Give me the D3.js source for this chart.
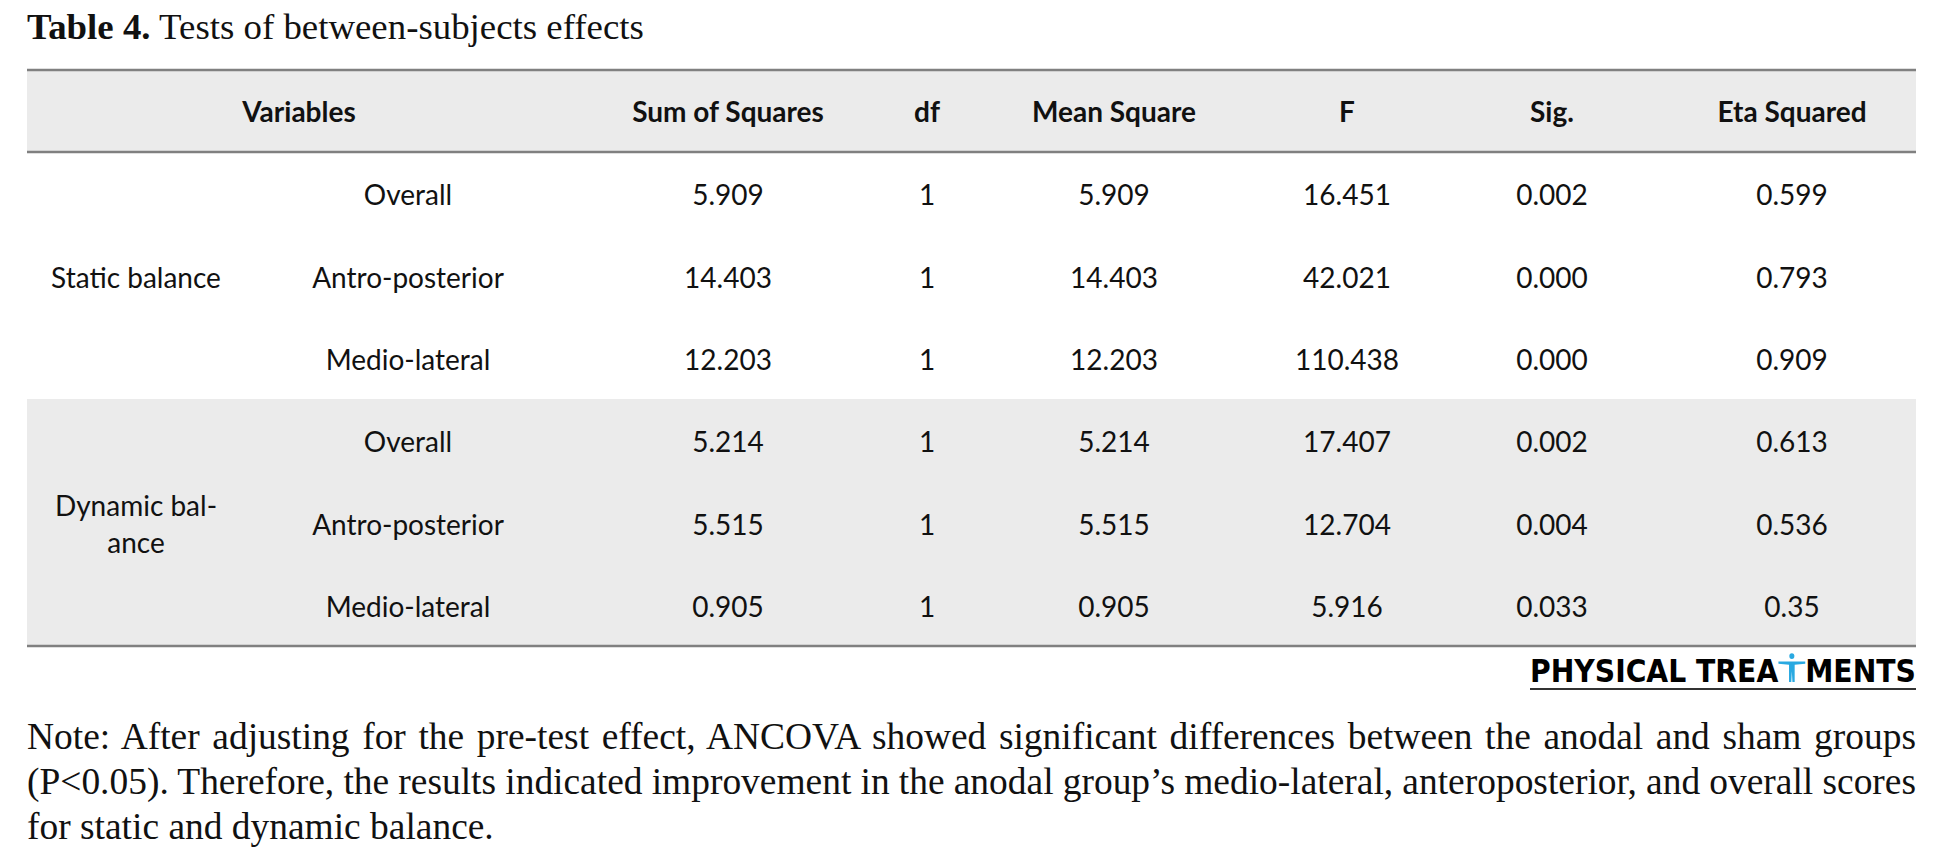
<!DOCTYPE html>
<html>
<head>
<meta charset="utf-8">
<script src="https://cdn.jsdelivr.net/npm/d3@7"></script>
<style>
  body { margin: 0; background: #fff; }
  svg { display: block; }
</style>
</head>
<body>
<div id="chart"></div>
<script>
// table content
const columns = ['Variables', 'Sum of Squares', 'df', 'Mean Square', 'F', 'Sig.', 'Eta Squared'];
const groups = [['Static balance'], ['Dynamic bal-', 'ance']];
const subVariables = ['Overall', 'Antro-posterior', 'Medio-lateral', 'Overall', 'Antro-posterior', 'Medio-lateral'];
const sumOfSquares = ['5.909', '14.403', '12.203', '5.214', '5.515', '0.905'];
const dfValues = ['1', '1', '1', '1', '1', '1'];
const meanSquare = ['5.909', '14.403', '12.203', '5.214', '5.515', '0.905'];
const fValues = ['16.451', '42.021', '110.438', '17.407', '12.704', '5.916'];
const sigValues = ['0.002', '0.000', '0.000', '0.002', '0.004', '0.033'];
const etaSquared = ['0.599', '0.793', '0.909', '0.613', '0.536', '0.35'];

const titleBold = 'Table 4.';
const titleText = ' Tests of between-subjects effects';
const noteLines = [
  'Note: After adjusting for the pre-test effect, ANCOVA showed significant differences between the anodal and sham groups',
  '(P<0.05). Therefore, the results indicated improvement in the anodal group\u2019s medio-lateral, anteroposterior, and overall scores',
  'for static and dynamic balance.'
];

const width = 1938;
const height = 852;
const left = 27;
const right = 1916;
const sansFont = 'Lato, "Open Sans", sans-serif';
const serifFont = '"Liberation Serif", "DejaVu Serif", serif';
const ruleColor = '#808080';
const bandColor = '#ebebeb';
const ink = '#111';
const cellSize = 28;

const svg = d3.select('#chart')
  .append('svg')
  .attr('width', width)
  .attr('height', height);

svg.append('rect').attr('width', width).attr('height', height).attr('fill', '#fff');

// column centres: sub-variable column, then the number columns
const colKeys = ['sub', 'ss', 'df', 'ms', 'f', 'sig', 'eta'];
const xcol = d3.scaleOrdinal().domain(colKeys).range([408, 728, 927, 1114, 1347, 1552, 1792]);
const groupX = 136;
const headerX = d3.scaleOrdinal().domain(columns).range([299, 728, 927, 1114, 1347, 1552, 1792]);

// rows
const headerTop = 70, headerBottom = 152, tableBottom = 646;
const yrow = d3.scaleBand().domain(d3.range(subVariables.length)).range([headerBottom, tableBottom]);
const rowMid = i => yrow(i) + yrow.bandwidth() / 2 + 2;

// shaded bands
svg.append('rect')
  .attr('x', left).attr('y', headerTop)
  .attr('width', right - left).attr('height', headerBottom - headerTop)
  .attr('fill', bandColor);
svg.append('rect')
  .attr('x', left).attr('y', yrow(3))
  .attr('width', right - left).attr('height', tableBottom - yrow(3))
  .attr('fill', bandColor);

// rules
[headerTop, headerBottom, tableBottom].forEach(y => {
  svg.append('line')
    .attr('x1', left).attr('x2', right)
    .attr('y1', y).attr('y2', y)
    .attr('stroke', ruleColor).attr('stroke-width', 2.5);
});

// header
svg.append('g')
  .selectAll('text')
  .data(columns)
  .join('text')
  .attr('x', d => headerX(d))
  .attr('y', (headerTop + headerBottom) / 2 + 1)
  .attr('dy', '0.36em')
  .attr('text-anchor', 'middle')
  .attr('font-family', sansFont)
  .attr('font-weight', 700)
  .attr('font-size', cellSize)
  .attr('fill', ink)
  .text(d => d);

// body cells
const rows = subVariables.map((s, i) => ({
  sub: s, ss: sumOfSquares[i], df: dfValues[i], ms: meanSquare[i],
  f: fValues[i], sig: sigValues[i], eta: etaSquared[i], i
}));

const cells = rows.flatMap(r => colKeys.map(k => ({ key: k, value: r[k], i: r.i })));

svg.append('g')
  .selectAll('text')
  .data(cells)
  .join('text')
  .attr('x', d => xcol(d.key))
  .attr('y', d => rowMid(d.i))
  .attr('dy', '0.36em')
  .attr('text-anchor', 'middle')
  .attr('font-family', sansFont)
  .attr('font-size', cellSize)
  .attr('fill', ink)
  .text(d => d.value);

// group labels
groups.forEach((lines, g) => {
  const yc = rowMid(g * 3 + 1);
  const lh = 37;
  const t = svg.append('text')
    .attr('text-anchor', 'middle')
    .attr('font-family', sansFont)
    .attr('font-size', cellSize)
    .attr('fill', ink);
  lines.forEach((ln, j) => {
    t.append('tspan')
      .attr('x', groupX)
      .attr('y', yc + (j - (lines.length - 1) / 2) * lh)
      .attr('dy', '0.36em')
      .text(ln);
  });
});

// title
const title = svg.append('text')
  .attr('x', left).attr('y', 39)
  .attr('font-family', serifFont)
  .attr('font-size', 32)
  .attr('fill', ink);
title.append('tspan').attr('font-weight', 700).text(titleBold);
title.append('tspan').text(titleText);
// fit title to its width in the picture
const titleLen = title.node().getComputedTextLength();
title.attr('font-size', 32 * 617 / titleLen);

// logo
const logo = svg.append('g');
const logoSize = 30;
const logoText1 = logo.append('text')
  .attr('x', 0).attr('y', 0)
  .attr('font-family', '"DejaVu Sans", sans-serif')
  .attr('font-weight', 700)
  .attr('font-size', logoSize)
  .attr('fill', '#000')
  .text('PHYSICAL TREA');
const w1 = logoText1.node().getComputedTextLength();
const figW = logoSize * 0.95;
const fig = logo.append('g').attr('transform', `translate(${w1 + figW / 2},0)`);
const capH = logoSize * 0.73;
const blue = '#29a9e1';
fig.append('circle').attr('cx', 0).attr('cy', -capH - 2).attr('r', logoSize * 0.09).attr('fill', blue);
fig.append('path')
  .attr('d', `M${-figW / 2},${-capH + 3} L${figW / 2},${-capH + 3} L${figW / 2},${-capH + 5} L${logoSize * 0.1},${-capH + 6}
    L${logoSize * 0.1},0 L${logoSize * 0.02},0 L0,${-capH * 0.45} L${-logoSize * 0.02},0 L${-logoSize * 0.1},0
    L${-logoSize * 0.1},${-capH + 6} L${-figW / 2},${-capH + 5} Z`)
  .attr('fill', blue);
const logoText2 = logo.append('text')
  .attr('x', w1 + figW).attr('y', 0)
  .attr('font-family', '"DejaVu Sans", sans-serif')
  .attr('font-weight', 700)
  .attr('font-size', logoSize)
  .attr('fill', '#000')
  .text('MENTS');
const logoW = w1 + figW + logoText2.node().getComputedTextLength();
const logoScale = 386 / logoW;
logo.attr('transform', `translate(${right - logoW * logoScale},682) scale(${logoScale},${logoScale * 1.15})`);
svg.append('line')
  .attr('x1', right - 386).attr('x2', right)
  .attr('y1', 689).attr('y2', 689)
  .attr('stroke', '#333').attr('stroke-width', 2);

// note, justified like the printed paragraph
const noteG = svg.append('g')
  .attr('font-family', serifFont)
  .attr('fill', ink);
const noteTexts = noteG.selectAll('text')
  .data(noteLines)
  .join('text')
  .attr('x', left)
  .attr('y', (d, i) => 749 + i * 45)
  .attr('font-size', 31)
  .text(d => d);
// fit font size on the last (unjustified) line
const lastLen = noteTexts.nodes()[2].getComputedTextLength();
const noteSize = 31 * 467 / lastLen;
noteTexts.attr('font-size', noteSize);
noteTexts.each(function(d, i) {
  if (i === noteLines.length - 1) return;
  const len = this.getComputedTextLength();
  const spaces = d.split(' ').length - 1;
  d3.select(this).attr('word-spacing', (right - left - len) / spaces);
});
</script>
</body>
</html>
